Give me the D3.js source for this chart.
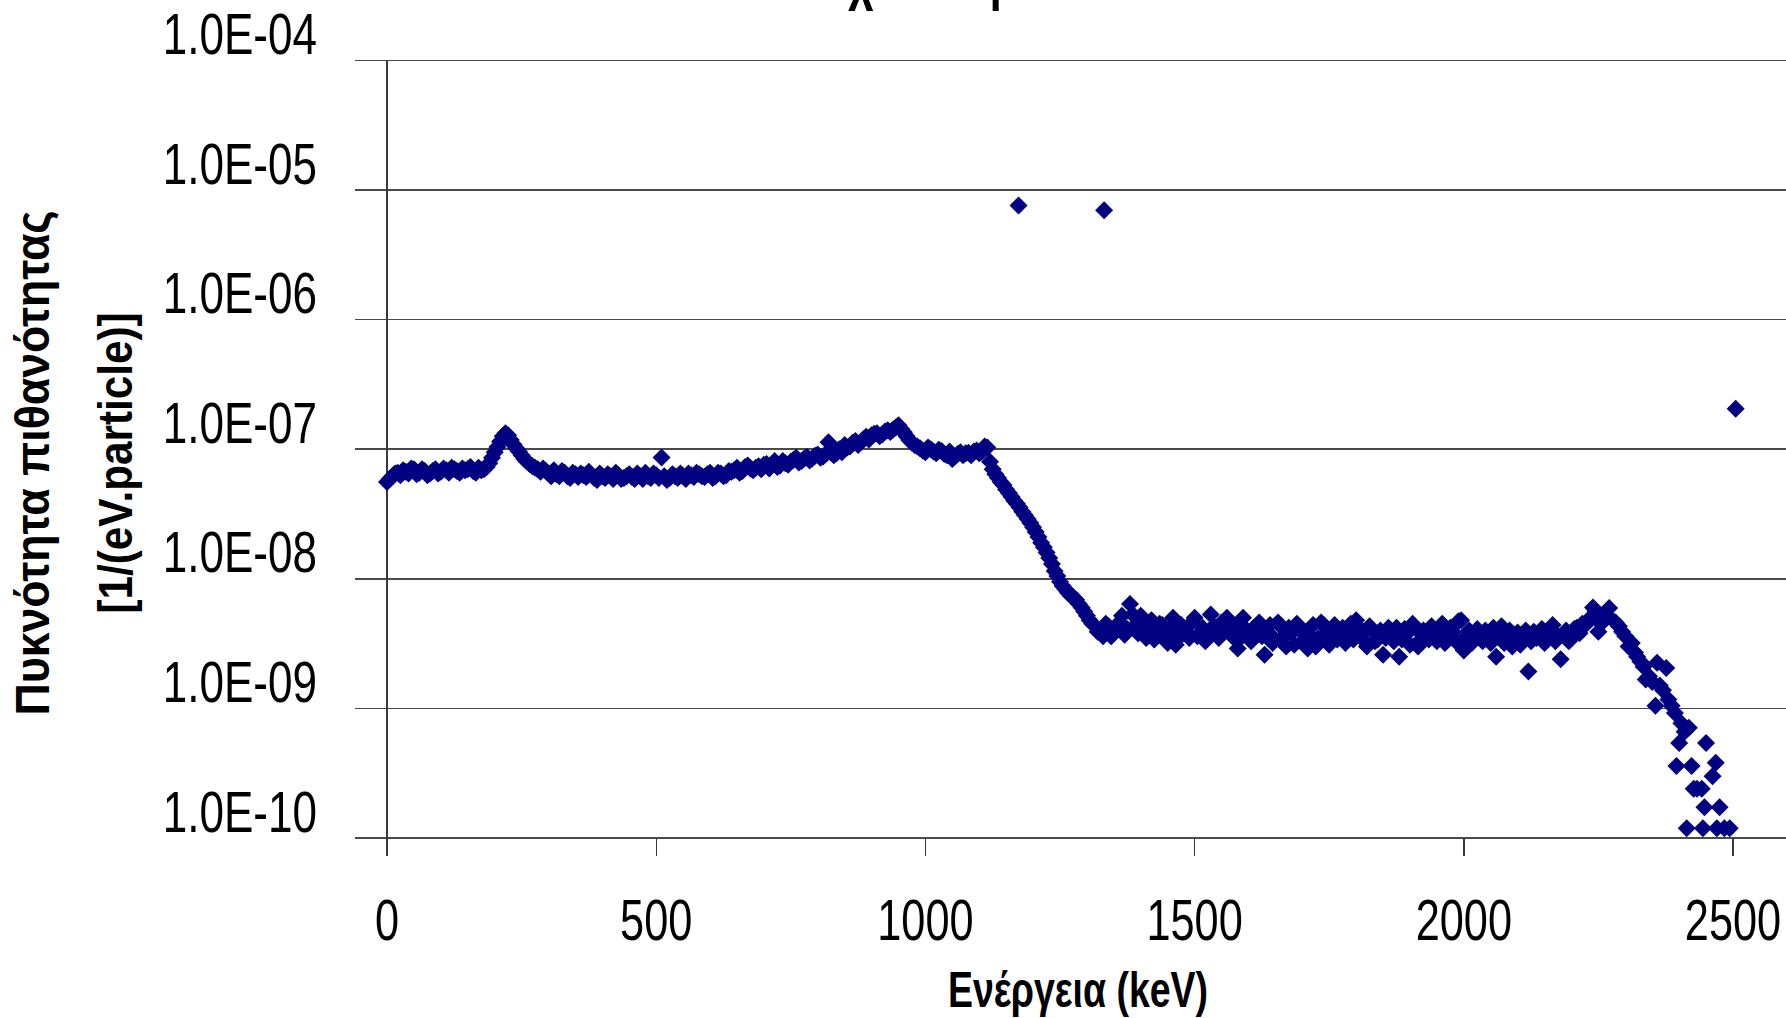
<!DOCTYPE html>
<html>
<head>
<meta charset="utf-8">
<script src="https://cdn.jsdelivr.net/npm/d3@7"></script>
<style>
  body { margin: 0; background: #fff; }
  svg { display: block; }
  text { font-family: "Liberation Sans", Arial, Helvetica, sans-serif; fill: #000; }
</style>
</head>
<body>
<svg id="chart" width="1786" height="1018"></svg>
<script>
// ---- Spectrum data -------------------------------------------------------
// Continuum below the Compton edges: 5 keV channels from 0 to 1310 keV,
// split into even channels (0, 10, 20 ...) and odd channels (5, 15, 25 ...).
// Units of 1e-8 1/(eV.particle).
const comptonStartKeV = 0;
const channelStepKeV = 10;
const comptonDensityE8 = [
  5.6, 6.2, 6.6, 6.9, 6.5, 7.0, 6.6, 6.8, 6.5, 7.0,      // 0-90
  6.7, 6.9, 7.2, 6.8, 7.1, 7.0, 6.8, 7.2, 7.0, 7.8,      // 100-190
  9.5, 11.5, 13.3, 11.8, 10.2, 9.0, 8.0, 7.4, 7.0, 7.1,  // 200-290
  6.5, 6.9, 6.2, 6.6, 6.0, 6.4, 6.5, 6.1, 6.3, 5.8,      // 300-390
  6.2, 6.4, 5.9, 6.3, 6.0, 6.4, 5.9, 6.2, 6.6, 6.0,      // 400-490
  6.3, 8.65, 5.8, 6.4, 6.0, 6.2, 6.5, 6.1, 6.4, 6.1,     // 500-590
  6.6, 6.2, 6.5, 6.3, 6.7, 7.2, 6.8, 7.5, 6.9, 7.4,      // 600-690
  7.6, 7.1, 8.1, 7.5, 7.8, 8.0, 8.6, 8.1, 8.7, 8.5,      // 700-790
  9.1, 8.8, 11.3, 9.0, 10.0, 10.8, 10.5, 11.6, 11.4, 12.5, // 800-890
  12.8, 13.3, 13.0, 14.0, 14.2, 15.3, 13.5, 11.8, 10.8, 10.2, // 900-990
  9.5, 10.0, 9.3, 9.7, 9.0, 8.4, 9.2, 9.0, 9.4, 9.6,     // 1000-1090
  9.3, 10.5, 8.0, 6.4, 5.6, 4.9, 4.3, 3.8, 3.3, 2.9,     // 1100-1190
  2.5, 2.1, 1.75, 1.45, 1.15, 0.95, 0.83, 0.74, 0.69, 0.60, // 1200-1290
  0.52, 0.45                                             // 1300-1310
];
const comptonOddStartKeV = 5;
const comptonOddDensityE8 = [
  5.9, 6.5, 6.3, 6.7, 7.1, 6.4, 7.0, 6.3, 6.8, 6.5,      // 5-95
  7.1, 6.6, 7.0, 6.6, 6.9, 7.3, 6.6, 6.9, 7.3, 8.6,      // 105-195
  10.4, 12.6, 12.8, 10.9, 9.6, 8.4, 7.7, 7.2, 6.7, 6.8,  // 205-295
  6.2, 6.4, 6.8, 6.2, 6.6, 6.1, 6.3, 6.7, 6.0, 6.5,      // 305-395
  6.0, 6.2, 6.6, 5.9, 6.2, 6.1, 6.5, 5.9, 6.2, 6.5,      // 405-495
  6.0, 6.2, 6.0, 6.2, 6.5, 5.9, 6.3, 6.6, 6.2, 6.4,      // 505-595
  6.0, 6.6, 6.2, 6.8, 6.9, 6.6, 7.3, 7.1, 7.2, 7.0,      // 605-695
  7.7, 7.6, 7.3, 8.1, 7.6, 8.3, 7.9, 8.5, 8.2, 8.9,      // 705-795
  8.6, 9.2, 9.4, 9.3, 9.5, 10.3, 11.2, 10.8, 12.0, 11.9, // 805-895
  13.2, 12.6, 13.7, 13.6, 14.7, 14.3, 12.6, 11.2, 10.5, 9.8, // 905-995
  10.3, 9.6, 9.9, 9.2, 9.6, 8.8, 9.5, 9.3, 9.0, 9.8,     // 1005-1095
  9.6, 10.3, 7.0, 6.0, 5.3, 4.6, 4.0, 3.55, 3.1, 2.7,    // 1105-1195
  2.3, 1.9, 1.6, 1.3, 1.05, 0.88, 0.78, 0.72, 0.64, 0.56, // 1205-1295
  0.48                                                   // 1305
];

// Plateau above the Compton edges, 1320-2270 keV (units of 1e-9)
const plateauStartKeV = 1320;
const plateauDensityE9 = [
  3.9, 3.6, 4.3, 3.8, 4.6, 3.7, 6.4, 4.4, 5.2, 3.5,      // 1320-1410
  4.8, 3.9, 4.4, 3.2, 5.0, 3.5, 4.2, 3.5, 5.0, 3.8,      // 1420-1510
  3.3, 5.3, 4.0, 4.6, 5.0, 3.6, 2.9, 5.0, 3.7, 4.2,      // 1520-1610
  4.6, 2.6, 4.4, 3.4, 4.3, 3.0, 3.8, 4.5, 3.3, 2.9,      // 1620-1710
  4.4, 3.5, 4.4, 3.1, 4.4, 3.6, 3.2, 4.5, 4.8, 3.5,      // 1720-1810
  3.0, 4.0, 3.4, 2.6, 4.2, 3.3, 2.5, 4.1, 3.1, 4.2,      // 1820-1910
  3.4, 3.8, 4.3, 3.3, 4.5, 3.6, 3.9, 4.7, 2.8, 4.0,      // 1920-2010
  3.4, 3.6, 4.0, 3.2, 2.5, 4.3, 3.5, 3.0, 3.85, 3.4,     // 2020-2110
  1.93, 3.9, 3.85, 3.2, 4.0, 3.3, 2.4, 4.0, 3.5, 4.2,    // 2120-2210
  4.5, 4.6, 6.0, 3.9, 4.8, 5.95                          // 2220-2270
];
const plateauOddStartKeV = 1325;
const plateauOddDensityE9 = [
  4.0, 4.5, 3.6, 4.2, 5.2, 4.1, 5.3, 3.8, 4.3, 4.0,      // 1325-1415
  3.4, 4.5, 3.7, 4.1, 3.1, 4.4, 3.9, 4.6, 3.6, 4.2,      // 1425-1515
  3.8, 4.3, 3.5, 4.2, 3.9, 4.3, 3.5, 4.1, 3.3, 4.0,      // 1525-1615
  3.6, 3.9, 3.2, 4.6, 3.6, 4.2, 3.1, 4.1, 3.7, 3.6,      // 1625-1715
  3.0, 4.6, 3.8, 3.9, 3.4, 4.2, 3.9, 3.4, 4.2, 3.9,      // 1725-1815
  4.3, 3.3, 4.0, 3.5, 3.8, 4.2, 3.4, 3.8, 4.5, 3.0,      // 1825-1915
  4.0, 3.4, 3.7, 4.0, 3.2, 4.2, 3.3, 4.8, 3.6, 3.2,      // 1925-2015
  4.1, 3.3, 3.8, 4.2, 3.6, 3.2, 4.0, 3.7, 3.1, 4.0,      // 2025-2115
  3.3, 3.5, 4.1, 3.7, 4.4, 3.6, 3.7, 3.3, 4.1, 3.8,      // 2125-2215
  4.4, 5.0, 5.6, 4.5, 5.3                                // 2225-2265
];

// Fall-off towards the sum energy (keV, units of 1e-9)
const edgeEnergyKeV = [
  2282, 2288, 2294, 2300, 2306, 2312, 2318, 2322, 2328, 2334,
  2338, 2344, 2350, 2356, 2359, 2364, 2370, 2376, 2380, 2386,
  2392, 2395, 2400, 2404, 2410, 2414, 2418, 2423, 2427, 2433,
  2442, 2444, 2447, 2450, 2462, 2468, 2470, 2475, 2484, 2494
];
const edgeDensityE9 = [
  4.6, 4.3, 3.9, 3.6, 3.0, 3.2, 2.7, 2.5, 2.3, 2.1,
  1.67, 1.77, 1.6, 1.05, 2.25, 1.5, 1.38, 2.05, 1.17, 1.05,
  0.92, 0.36, 0.54, 0.77, 0.66, 0.119, 0.71, 0.36, 0.24, 0.24,
  0.24, 0.119, 0.173, 0.54, 0.30, 0.38, 0.119, 0.173, 0.119, 0.119
];

// Full-energy peaks and sum peak
const lineEnergyKeV = [1173, 1332, 2505];
const lineDensity = [7.6e-6, 7.0e-6, 2.05e-7];

// Axes
const xTicks = [0, 500, 1000, 1500, 2000, 2500];
const yTicks = [1e-10, 1e-9, 1e-8, 1e-7, 1e-6, 1e-5, 1e-4];
const yTickLabels = ["1.0E-10", "1.0E-09", "1.0E-08", "1.0E-07", "1.0E-06", "1.0E-05", "1.0E-04"];

const titleText = "Ανίχνευση ακτίνων Co-60";
const xTitle = "Ενέργεια (keV)";
const yTitleLines = ["Πυκνότητα πιθανότητας", "[1/(eV.particle)]"];

// ---- Assemble points -----------------------------------------------------
const points = [];
function addChannels(values, startKeV, scale) {
  values.forEach((d, i) => points.push({ e: startKeV + i * channelStepKeV, v: d * scale }));
}
addChannels(comptonDensityE8, comptonStartKeV, 1e-8);
addChannels(comptonOddDensityE8, comptonOddStartKeV, 1e-8);
addChannels(plateauDensityE9, plateauStartKeV, 1e-9);
addChannels(plateauOddDensityE9, plateauOddStartKeV, 1e-9);
edgeEnergyKeV.forEach((e, i) => points.push({ e: e, v: edgeDensityE9[i] * 1e-9 }));
lineEnergyKeV.forEach((e, i) => points.push({ e: e, v: lineDensity[i] }));
points.sort((a, b) => a.e - b.e);

// ---- Layout ----------------------------------------------------------------
const W = 1786, H = 1018;
const svg = d3.select("#chart");
svg.append("rect").attr("width", W).attr("height", H).attr("fill", "#fff");

const x = d3.scaleLinear().domain([0, 2500]).range([387, 1733]);
const y = d3.scaleLog().domain([1e-10, 1e-4]).range([838, 60.5]);

const narrow = 0.76;

// Horizontal gridlines (with outward tick stubs on the left)
svg.append("g").selectAll("line").data(yTicks).join("line")
  .attr("x1", 355).attr("x2", W)
  .attr("y1", d => y(d)).attr("y2", d => y(d))
  .attr("stroke", "#4a4a4a").attr("stroke-width", 1.6)
  .attr("shape-rendering", "crispEdges");

// Vertical axis line
svg.append("line")
  .attr("x1", x(0)).attr("x2", x(0))
  .attr("y1", y(1e-4)).attr("y2", y(1e-10) + 18)
  .attr("stroke", "#3a3a3a").attr("stroke-width", 1.4)
  .attr("shape-rendering", "crispEdges");

// Tick marks below the horizontal axis
svg.append("g").selectAll("line").data(xTicks.slice(1)).join("line")
  .attr("x1", d => x(d)).attr("x2", d => x(d))
  .attr("y1", y(1e-10)).attr("y2", y(1e-10) + 18)
  .attr("stroke", "#3a3a3a").attr("stroke-width", 1.4)
  .attr("shape-rendering", "crispEdges");

// Y tick labels
svg.append("g").selectAll("text").data(yTicks).join("text")
  .attr("transform", d => `translate(317,${y(d) - 6.5}) scale(${narrow},1)`)
  .attr("text-anchor", "end")
  .attr("font-size", 58)
  .text((d, i) => yTickLabels[i]);

// X tick labels
svg.append("g").selectAll("text").data(xTicks).join("text")
  .attr("transform", d => `translate(${x(d)},940) scale(${narrow},1)`)
  .attr("text-anchor", "middle")
  .attr("font-size", 57)
  .text(d => d);

// Axis titles
svg.append("text")
  .attr("transform", `translate(1078,1007) scale(0.75,1)`)
  .attr("text-anchor", "middle")
  .attr("font-size", 50).attr("font-weight", "bold")
  .text(xTitle);

svg.append("g").selectAll("text").data(yTitleLines).join("text")
  .attr("transform", (d, i) => i === 0
    ? `translate(49,463) rotate(-90) scale(0.93,1)`
    : `translate(132,463) rotate(-90) scale(0.88,1)`)
  .attr("text-anchor", "middle")
  .attr("font-size", 48).attr("font-weight", "bold")
  .text(d => d);

// Title (runs off the top edge; only its descenders fall inside the frame)
const title = svg.append("text")
  .attr("font-size", 58).attr("font-weight", "bold")
  .text(titleText);
const chiPos = title.node().getStartPositionOfChar(titleText.indexOf("χ")).x;
title.attr("transform", `translate(${848 - chiPos * narrow},-1) scale(${narrow},1)`);

// Markers: navy diamonds
const diamond = d3.symbol().type(d3.symbolSquare).size(162);
svg.append("g").selectAll("path").data(points).join("path")
  .attr("d", diamond)
  .attr("transform", d => `translate(${x(d.e)},${y(d.v)}) rotate(45)`)
  .attr("fill", "#000080");
</script>
</body>
</html>
